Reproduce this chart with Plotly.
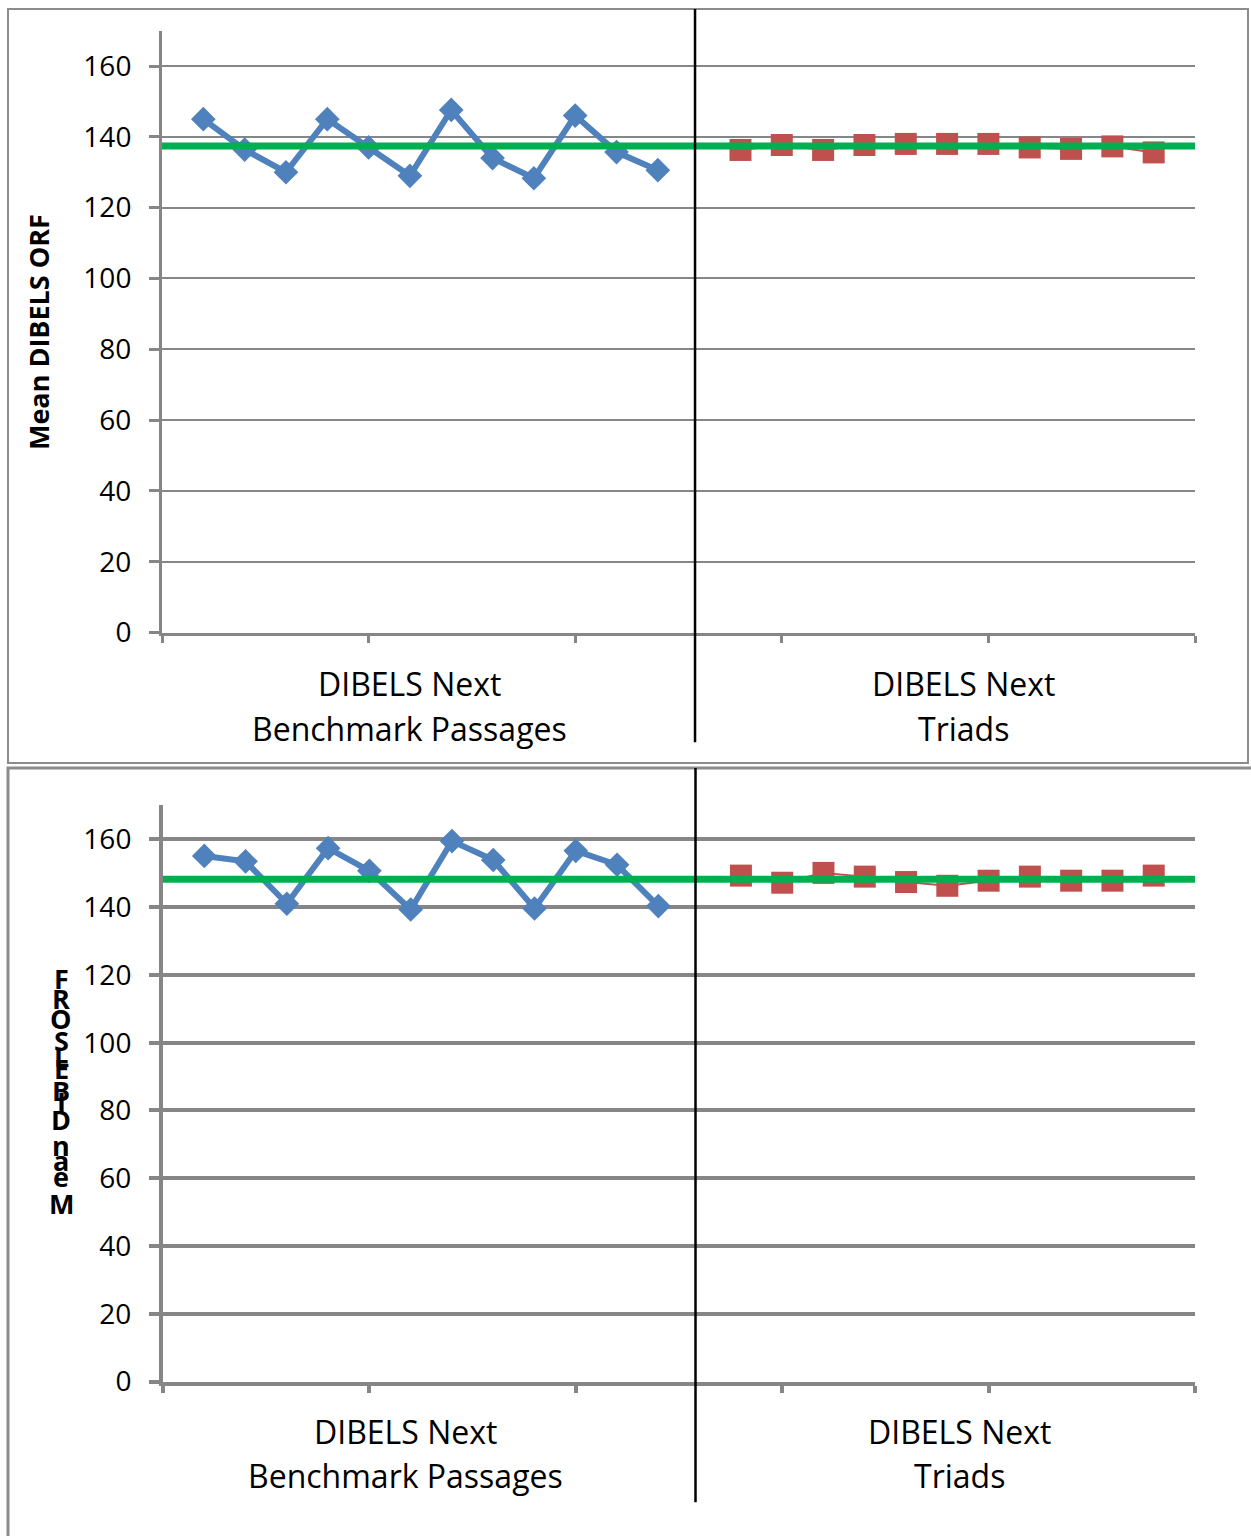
import plotly.graph_objects as go

# ---- data ----
bench_x = [1, 2, 3, 4, 5, 6, 7, 8, 9, 10, 11, 12]
triad_x = [14, 15, 16, 17, 18, 19, 20, 21, 22, 23, 24]

top_bench = [145.0, 136.4, 130.0, 145.0, 137.0, 129.0, 147.6, 134.0, 128.3, 146.0, 135.7, 130.6]
top_triad = [136.3, 137.7, 136.3, 137.7, 138.0, 138.0, 138.0, 137.0, 136.6, 137.3, 135.6]
top_mean = 137.4

bot_bench = [155.1, 153.5, 141.0, 157.4, 150.7, 139.3, 159.5, 153.9, 139.6, 156.6, 152.5, 140.3]
bot_triad = [149.3, 147.2, 150.1, 149.0, 147.4, 146.3, 147.8, 149.0, 147.8, 147.8, 149.3]
bot_mean = 148.2

y_ticks = [0, 20, 40, 60, 80, 100, 120, 140, 160]
x_ticks = [0, 5, 10, 15, 20, 25]
divider_x = 12.9
left_label = ["DIBELS Next", "Benchmark Passages"]
right_label = ["DIBELS Next", "Triads"]
y_title = "Mean DIBELS ORF"

W, H = 1251, 1536
BLUE = "#4F81BD"
RED = "#C0504D"
GREEN = "#00B050"
GRID = "#868686"
FONT = "Open Sans"


def px(x):
    return x / W


def py(y):
    return 1 - y / H


fig = go.Figure()

panels = [
    dict(bench=top_bench, triad=top_triad, mean=top_mean, xa="x", ya="y",
         xd=[px(162), px(1195)], yd=[py(640), py(31)], gw=2, aw=3),
    dict(bench=bot_bench, triad=bot_triad, mean=bot_mean, xa="x2", ya="y2",
         xd=[px(163), px(1195)], yd=[py(1398), py(815)], gw=4, aw=4),
]

for i, p in enumerate(panels):
    fig.add_trace(go.Scatter(
        x=bench_x, y=p["bench"], xaxis=p["xa"], yaxis=p["ya"], mode="lines+markers",
        line=dict(color=BLUE, width=6),
        marker=dict(symbol="diamond", size=19, color=BLUE),
        showlegend=False, cliponaxis=False))
    fig.add_trace(go.Scatter(
        x=triad_x, y=p["triad"], xaxis=p["xa"], yaxis=p["ya"], mode="lines+markers",
        line=dict(color=RED, width=2),
        marker=dict(symbol="square", size=22, color=RED),
        showlegend=False, cliponaxis=False))
    fig.add_trace(go.Scatter(
        x=[x_ticks[0], x_ticks[-1]], y=[p["mean"], p["mean"]], xaxis=p["xa"], yaxis=p["ya"],
        mode="lines", line=dict(color=GREEN, width=7),
        showlegend=False, cliponaxis=False))

    suffix = "" if i == 0 else "2"
    fig.update_layout(**{
        "xaxis" + suffix: dict(
            domain=p["xd"], range=[x_ticks[0], x_ticks[-1]], tickvals=x_ticks,
            showticklabels=False, ticks="outside", ticklen=7, tickwidth=p["aw"],
            tickcolor=GRID, showgrid=False, zeroline=False, showline=True,
            linecolor=GRID, linewidth=p["aw"], anchor="y" + suffix, fixedrange=True),
        "yaxis" + suffix: dict(
            domain=p["yd"], range=[0, 170], tickvals=y_ticks,
            ticks="outside", ticklen=10, tickwidth=p["aw"], tickcolor=GRID,
            showgrid=True, gridcolor=GRID, gridwidth=p["gw"], zeroline=False,
            showline=True, linecolor=GRID, linewidth=p["aw"], anchor="x" + suffix,
            tickfont=dict(family=FONT, size=28, color="black"), ticklabelstandoff=12,
            fixedrange=True),
    })

# frames
fig.add_shape(type="rect", xref="paper", yref="paper", x0=px(8), x1=px(1248), y0=py(772), y1=py(9),
              line=dict(color="#8C8C8C", width=2), layer="below")
fig.add_shape(type="rect", xref="paper", yref="paper", x0=px(8), x1=px(1256), y0=py(1560), y1=py(777),
              line=dict(color="#8C8C8C", width=3), layer="below")

# divider lines
fig.add_shape(type="line", xref="x", yref="paper", x0=divider_x, x1=divider_x, y0=py(751), y1=py(9),
              line=dict(color="black", width=2.5))
fig.add_shape(type="line", xref="x2", yref="paper", x0=divider_x, x1=divider_x, y0=py(1520), y1=py(777),
              line=dict(color="black", width=2.5))

# category labels (two lines each)
for (cx, cy, lines) in [(409, 692, left_label), (963, 692, right_label),
                        (405, 1448, left_label), (959, 1448, right_label)]:
    for k, txt in enumerate(lines):
        fig.add_annotation(x=px(cx), y=py(cy + 45 * k), xref="paper", yref="paper", text=txt,
                           showarrow=False, xanchor="center", yanchor="middle",
                           font=dict(family=FONT, size=32, color="black"))

# y-axis title (top)
fig.add_annotation(x=px(38), y=py(336), xref="paper", yref="paper", text="<b>" + y_title + "</b>",
                   showarrow=False, textangle=-90, xanchor="center", yanchor="middle",
                   font=dict(family=FONT, size=27, color="black"))

# y-axis title (bottom) - stacked, reversed letters as in the reference
stack_letters = [c for c in y_title if c != " "][::-1]
stack_y = [990, 1010, 1031, 1053, 1069, 1081, 1103, 1115, 1133, 1159, 1174, 1190, 1218]
for c, yy in zip(stack_letters, stack_y):
    fig.add_annotation(x=px(61), y=py(yy), xref="paper", yref="paper", text="<b>" + c + "</b>",
                       showarrow=False, xanchor="center", yanchor="middle",
                       font=dict(family=FONT, size=27, color="black"))

fig.update_layout(width=W, height=H, margin=dict(l=0, r=0, t=0, b=0),
                  paper_bgcolor="white", plot_bgcolor="white", showlegend=False)

fig.write_html("out.html", config={"displayModeBar": False},
               post_script="document.body.style.margin='0';document.body.style.overflow='hidden';")
